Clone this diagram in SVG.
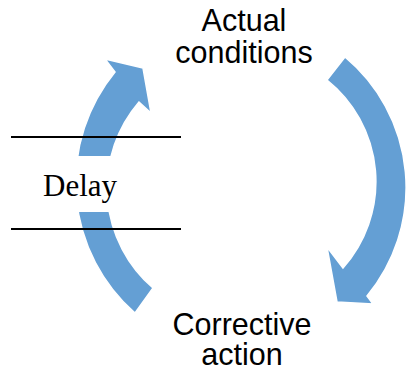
<svg xmlns="http://www.w3.org/2000/svg" width="407" height="372" viewBox="0 0 407 372">
<style>
.arrow{fill:#649FD4;stroke:#ffffff;stroke-width:1.5;stroke-linejoin:miter}
.lbl{font-family:"Liberation Sans",Arial,sans-serif;font-size:30.5px;fill:#000;text-anchor:middle}
.delay{font-family:"Liberation Serif","Times New Roman",serif;font-size:31px;fill:#000}
.rule{stroke:#000;stroke-width:2}
</style>
<rect width="407" height="372" fill="#fff"/>
<g id="connectors">
<path id="arrow-left" class="arrow" d="M 135 313 A 174 174 0 0 1 115 72 L 105 59 L 143 68 L 151 113 L 139 102 A 132 132 0 0 0 153 288 Z"/>
<path id="arrow-right" class="arrow" d="M 345 57 A 170 170 0 0 1 367 296 L 373 304 L 337 302 L 327 247 L 343 268 A 130 130 0 0 0 327 80 Z"/>
</g>
<g id="delay">
<rect x="11" y="156" width="170" height="56" fill="#fff"/>
<line class="rule" x1="11" y1="137" x2="181" y2="137"/>
<line class="rule" x1="11" y1="229" x2="181" y2="229"/>
<text class="delay" x="43" y="196">Delay</text>
</g>
<g id="actual-conditions">
<text class="lbl" x="244" y="31">Actual</text>
<text class="lbl" x="244" y="63">conditions</text>
</g>
<g id="corrective-action">
<text class="lbl" x="242" y="335">Corrective</text>
<text class="lbl" x="242" y="365">action</text>
</g>
</svg>
